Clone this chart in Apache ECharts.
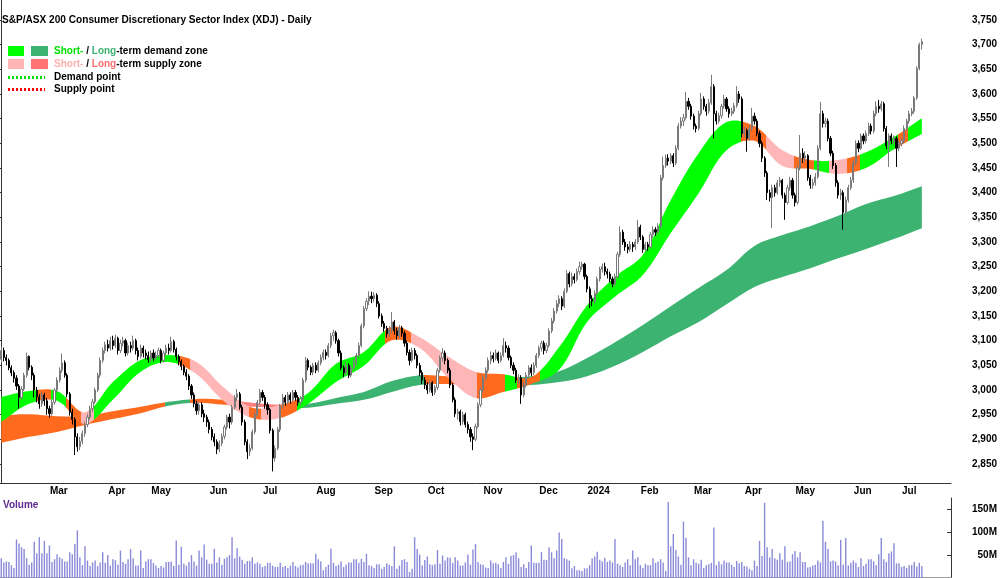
<!DOCTYPE html>
<html lang="en">
<head>
<meta charset="UTF-8">
<title>XDJ Daily</title>
<script src="https://cdn.jsdelivr.net/npm/echarts@6/dist/echarts.min.js"></script>
<style>html,body{margin:0;padding:0;background:#fff;}</style>
</head>
<body>
<div id="main" style="width:1000px;height:578px;"></div>
<script type="text/javascript">
// one row per trading day: open, close, low, high, volume (millions)
var feb23 = [[3062,3080,3055,3088,43],[3080,3066,3058,3086,34],[3066,3060,3050,3072,36],[3060,3045,3040,3064,35],[3045,3035,3028,3050,28],[3035,3024,3015,3040,22],[3024,3008,3000,3030,84],[3008,2985,2962,3012,75],[2985,3002,2980,3008,67],[3002,3030,2998,3035,63],[3030,3068,3025,3076,43],[3068,3046,3040,3070,29],[3046,3030,3020,3050,34],[3030,3000,2985,3035,79],[3000,2986,2975,3006,54],[2986,2972,2962,2992,89],[2972,2990,2966,2996,54],[2990,2978,2968,2994,81]];
var mar23 = [[2978,2962,2950,2984,54],[2962,2952,2944,2968,71],[2952,2975,2948,2980,35],[2975,3000,2970,3004,41],[3000,3020,2995,3026,52],[3020,3040,3015,3046,45],[3040,3055,3035,3074,42],[3055,3030,3025,3060,36],[3030,2992,2985,3034,36],[2992,2955,2948,2996,56],[2955,2940,2930,2962,52],[2940,2905,2868,2945,74],[2905,2885,2875,2912,104],[2885,2896,2878,2905,45],[2896,2912,2890,2918,28],[2912,2930,2905,2936,69],[2930,2945,2925,2952,38],[2945,2962,2940,2968,26],[2962,2976,2955,2982,34],[2976,3000,2972,3005,38],[3000,3030,2996,3035,26],[3030,3060,3025,3066,34],[3060,3080,3055,3086,56]];
var apr23 = [[3080,3092,3074,3098,33],[3092,3085,3078,3102,50],[3085,3100,3080,3108,27],[3100,3090,3082,3110,41],[3090,3105,3085,3112,39],[3105,3080,3072,3108,29],[3080,3095,3075,3102,60],[3095,3100,3088,3108,35],[3100,3075,3068,3104,31],[3075,3090,3070,3096,41],[3090,3085,3076,3098,63],[3085,3100,3080,3110,43],[3100,3080,3072,3104,27],[3080,3068,3060,3086,27],[3068,3085,3064,3092,60],[3085,3075,3066,3090,22],[3075,3070,3062,3082,36]];
var may23 = [[3070,3062,3055,3078,41],[3062,3075,3058,3080,41],[3075,3065,3058,3082,33],[3065,3070,3060,3078,27],[3070,3080,3064,3086,22],[3080,3060,3054,3084,26],[3060,3075,3056,3080,23],[3075,3085,3070,3092,35],[3085,3080,3072,3094,35],[3080,3098,3076,3108,36],[3098,3082,3076,3102,26],[3082,3068,3060,3086,82],[3068,3058,3050,3072,29],[3058,3048,3040,3062,68],[3048,3036,3030,3052,31],[3036,3028,3020,3042,27],[3028,3008,3000,3032,35],[3008,2990,2982,3012,50],[2990,2972,2965,2995,36],[2972,2958,2950,2978,27],[2958,2970,2950,2976,60],[2970,2952,2945,2975,45],[2952,2945,2935,2960,73]];
var jun23 = [[2945,2935,2925,2950,40],[2935,2920,2912,2940,31],[2920,2905,2898,2925,31],[2905,2895,2886,2912,64],[2895,2880,2870,2900,34],[2880,2892,2874,2898,45],[2892,2906,2886,2912,29],[2906,2925,2900,2930,42],[2925,2945,2920,2950,45],[2945,2935,2922,2952,50],[2935,2965,2930,2970,89],[2965,2985,2960,2990,43],[2985,2992,2978,3002,65],[2992,2965,2960,2996,47],[2965,2935,2928,2970,40],[2935,2895,2888,2940,31],[2895,2875,2860,2900,37],[2875,2882,2866,2890,37],[2882,2915,2878,2920,45],[2915,2950,2910,2955,31],[2950,2975,2945,2980,34]];
var jul23 = [[2975,2995,2970,3002,31],[2995,2985,2978,3000,24],[2985,2970,2962,2990,26],[2970,2960,2950,2975,33],[2960,2918,2912,2964,33],[2918,2862,2835,2922,27],[2862,2882,2855,2888,24],[2882,2920,2878,2925,24],[2920,2968,2915,2972,33],[2968,2985,2962,2992,24],[2985,2975,2968,2990,26],[2975,2990,2970,2996,22],[2990,2980,2972,2995,27],[2980,2995,2976,3000,35],[2995,2985,2978,3000,26],[2985,2975,2968,2990,23],[2975,2982,2970,2988,28],[2982,3020,2978,3025,29],[3020,3060,3015,3067,35],[3060,3046,3040,3064,32],[3046,3036,3030,3050,32]];
var aug23 = [[3036,3050,3030,3055,32],[3050,3040,3034,3056,53],[3040,3055,3036,3060,41],[3055,3066,3050,3072,36],[3066,3076,3060,3082,17],[3076,3070,3062,3082,24],[3070,3090,3066,3095,29],[3090,3110,3085,3116,64],[3110,3116,3100,3122,33],[3116,3100,3094,3120,26],[3100,3075,3068,3104,29],[3075,3045,3040,3080,36],[3045,3035,3026,3050,24],[3035,3050,3030,3056,29],[3050,3030,3024,3054,34],[3030,3045,3026,3050,34],[3045,3056,3040,3062,41],[3056,3070,3050,3075,41],[3070,3090,3066,3096,33],[3090,3130,3086,3135,42],[3130,3165,3125,3170,35],[3165,3180,3160,3186,53],[3180,3190,3172,3200,28]];
var sep23 = [[3190,3185,3176,3199,26],[3185,3192,3178,3198,22],[3192,3175,3168,3196,30],[3175,3150,3145,3180,30],[3150,3135,3128,3155,20],[3135,3125,3118,3140,24],[3125,3114,3106,3130,32],[3114,3122,3108,3130,29],[3122,3138,3115,3158,26],[3138,3120,3112,3142,69],[3120,3110,3102,3126,20],[3110,3126,3105,3132,27],[3126,3115,3108,3130,39],[3115,3095,3088,3120,41],[3095,3076,3070,3100,35],[3076,3060,3050,3082,13],[3060,3080,3056,3086,20],[3080,3070,3062,3085,89],[3070,3050,3044,3074,63],[3050,3035,3028,3055,51],[3035,3020,3012,3040,27]];
var oct23 = [[3020,3010,3002,3026,39],[3010,3000,2992,3016,47],[3000,3015,2995,3020,30],[3015,2995,2988,3018,28],[2995,3005,2990,3010,30],[3005,3040,3000,3045,61],[3040,3065,3035,3070,31],[3065,3075,3058,3085,49],[3075,3060,3052,3080,38],[3060,3040,3034,3064,45],[3040,3010,3004,3045,44],[3010,2980,2975,3014,33],[2980,2952,2945,2985,45],[2952,2956,2940,2962,38],[2956,2936,2928,2960,27],[2936,2950,2930,2956,27],[2950,2930,2924,2954,34],[2930,2920,2912,2936,51],[2920,2905,2895,2925,29],[2905,2900,2878,2912,62],[2900,2926,2896,2932,74],[2926,2970,2922,2975,35]];
var nov23 = [[2970,3000,2965,3005,30],[3000,3025,2995,3030,29],[3025,3040,3020,3046,23],[3040,3060,3035,3066,22],[3060,3070,3052,3078,38],[3070,3064,3056,3076,32],[3064,3075,3060,3082,33],[3075,3060,3054,3078,30],[3060,3070,3056,3076,22],[3070,3090,3066,3105,35],[3090,3085,3076,3098,45],[3085,3066,3060,3090,31],[3066,3050,3044,3070,48],[3050,3040,3032,3056,50],[3040,3020,3014,3045,56],[3020,3025,3012,3032,43],[3025,2990,2972,3030,24],[2990,3010,2985,3016,30],[3010,3030,3005,3036,22],[3030,3045,3025,3050,35],[3045,3035,3028,3052,71],[3035,3050,3030,3056,33]];
var dec23 = [[3050,3070,3045,3075,33],[3070,3085,3065,3090,33],[3085,3095,3078,3100,57],[3095,3080,3072,3100,40],[3080,3090,3075,3096,39],[3090,3120,3086,3125,67],[3120,3140,3115,3146,56],[3140,3160,3135,3166,43],[3160,3175,3155,3182,60],[3175,3185,3168,3192,99],[3185,3170,3162,3190,85],[3170,3200,3166,3206,43],[3200,3236,3196,3243,41],[3236,3215,3208,3240,38],[3215,3230,3210,3238,21],[3230,3224,3216,3236,26],[3224,3240,3220,3246,17],[3240,3250,3234,3260,17],[3250,3255,3244,3260,15]];
var jan24 = [[3255,3230,3224,3258,21],[3230,3205,3198,3234,21],[3205,3185,3166,3210,28],[3185,3180,3170,3192,43],[3180,3196,3175,3202,47],[3196,3225,3192,3230,57],[3225,3245,3220,3250,40],[3245,3250,3238,3256,36],[3250,3240,3232,3258,44],[3240,3235,3226,3246,35],[3235,3225,3218,3240,38],[3225,3215,3208,3230,34],[3215,3230,3210,3236,85],[3230,3275,3226,3280,31],[3275,3320,3270,3332,28],[3320,3300,3294,3325,24],[3300,3290,3282,3306,34],[3290,3285,3277,3296,41],[3285,3295,3280,3302,28],[3295,3290,3280,3300,60],[3290,3300,3284,3306,41]];
var feb24 = [[3300,3330,3296,3345,45],[3330,3310,3304,3335,28],[3310,3285,3278,3314,22],[3285,3295,3280,3300,31],[3295,3290,3282,3300,28],[3290,3315,3286,3320,28],[3315,3325,3308,3332,43],[3325,3320,3312,3330,33],[3320,3332,3315,3338,36],[3332,3430,3328,3436,41],[3430,3455,3425,3473,34],[3455,3470,3450,3477,15],[3470,3464,3455,3478,166],[3464,3475,3458,3480,69],[3475,3460,3452,3480,96],[3460,3490,3456,3496,61],[3490,3535,3486,3541,47],[3535,3545,3530,3553,29],[3545,3552,3535,3560,123],[3552,3585,3548,3604,88],[3585,3575,3568,3592,45]];
var mar24 = [[3575,3555,3548,3580,28],[3555,3535,3528,3560,41],[3535,3530,3522,3540,33],[3530,3560,3526,3566,31],[3560,3590,3556,3602,40],[3590,3575,3568,3595,22],[3575,3565,3556,3580,28],[3565,3582,3560,3590,30],[3582,3615,3578,3639,33],[3615,3560,3510,3620,110],[3560,3545,3538,3566,28],[3545,3556,3540,3562,36],[3556,3575,3550,3580,30],[3575,3590,3570,3598,38],[3590,3570,3564,3594,34],[3570,3560,3552,3575,34],[3560,3565,3555,3572,29],[3565,3576,3560,3582,24],[3576,3600,3572,3616,37],[3600,3590,3582,3606,32]];
var apr24 = [[3590,3520,3512,3595,35],[3520,3526,3512,3534,26],[3526,3510,3483,3530,25],[3510,3530,3505,3536,20],[3530,3555,3525,3572,17],[3555,3545,3538,3562,38],[3545,3520,3514,3550,26],[3520,3500,3492,3525,81],[3500,3470,3462,3505,48],[3470,3440,3432,3474,164],[3440,3400,3385,3444,67],[3400,3390,3382,3406,45],[3390,3410,3328,3416,63],[3410,3400,3392,3416,43],[3400,3420,3396,3426,40],[3420,3425,3412,3432,54],[3425,3395,3388,3428,40],[3395,3380,3345,3400,69],[3380,3410,3376,3416,35],[3410,3425,3404,3432,36]];
var may24 = [[3425,3395,3388,3430,52],[3395,3380,3372,3400,59],[3380,3450,3376,3456,45],[3450,3480,3445,3517,56],[3480,3470,3460,3490,35],[3470,3475,3462,3484,35],[3475,3430,3424,3478,23],[3430,3415,3408,3436,24],[3415,3420,3408,3428,27],[3420,3432,3414,3440,29],[3432,3490,3428,3496,38],[3490,3560,3486,3584,34],[3560,3540,3532,3566,125],[3540,3545,3532,3552,79],[3545,3510,3504,3550,63],[3510,3480,3474,3515,36],[3480,3455,3448,3485,38],[3455,3420,3412,3460,36],[3420,3395,3388,3425,28],[3395,3400,3385,3408,83],[3400,3360,3325,3405,29],[3360,3385,3355,3392,87],[3385,3410,3380,3416,27]];
var jun24 = [[3410,3425,3405,3432,33],[3425,3460,3420,3466,38],[3460,3500,3455,3506,33],[3500,3490,3482,3506,24],[3490,3515,3486,3520,43],[3515,3505,3498,3520,26],[3505,3520,3500,3526,31],[3520,3535,3515,3542,41],[3535,3525,3518,3540,41],[3525,3560,3520,3566,36],[3560,3575,3555,3585,28],[3575,3570,3562,3588,52],[3570,3580,3565,3586,87],[3580,3530,3524,3584,41],[3530,3495,3488,3535,35],[3495,3515,3452,3520,54],[3515,3505,3498,3520,58],[3505,3510,3498,3516,76],[3510,3490,3452,3514,32]];
var jul24 = [[3490,3500,3484,3506,32],[3500,3505,3494,3512,24],[3505,3530,3500,3536,26],[3530,3545,3525,3550,22],[3545,3560,3540,3566,28],[3560,3565,3555,3572,28],[3565,3592,3560,3596,35],[3592,3652,3588,3656,25],[3652,3700,3648,3704,33],[3700,3706,3690,3712,26]];

var monthRows = [feb23, mar23, apr23, may23, jun23, jul23, aug23, sep23, oct23, nov23, dec23, jan24, feb24, mar24, apr24, may24, jun24, jul24];
var monthLabels = ['', 'Mar', 'Apr', 'May', 'Jun', 'Jul', 'Aug', 'Sep', 'Oct', 'Nov', 'Dec', '2024', 'Feb', 'Mar', 'Apr', 'May', 'Jun', 'Jul'];

// zone edges, read every 11th trading day (day 0, 11, ... 363)
var bandStep = 11;
var ltUpper = [2949, 2951, 2947, 2947, 2957, 2966, 2976, 2982, 2980, 2974, 2970, 2972, 2984, 2996, 3018, 3030, 3028, 3026, 3024, 3028, 3038, 3065, 3097, 3132, 3170, 3207, 3243, 3292, 3314, 3332, 3353, 3377, 3393, 3413];
var ltLower = [2893, 2905, 2915, 2929, 2941, 2953, 2968, 2974, 2970, 2966, 2964, 2964, 2972, 2980, 2996, 3010, 3012, 3010, 3010, 3010, 3016, 3028, 3049, 3077, 3109, 3138, 3174, 3209, 3229, 3247, 3267, 3286, 3306, 3328];
var stUpper = [2986, 2998, 2998, 2955, 3016, 3061, 3071, 3057, 3004, 2964, 2970, 2994, 3053, 3077, 3128, 3107, 3069, 3037, 3032, 3026, 3087, 3172, 3229, 3274, 3385, 3480, 3543, 3535, 3486, 3466, 3466, 3482, 3513, 3551];
var stLower = [2935, 2972, 2978, 2931, 2980, 3037, 3057, 3032, 2976, 2943, 2943, 2972, 3016, 3049, 3101, 3085, 3026, 2984, 2996, 3012, 3041, 3138, 3189, 3233, 3318, 3399, 3486, 3505, 3454, 3448, 3438, 3450, 3488, 3519];

// zone colour changes, by trading day
var ltZones = [[0, 65, 'orange'], [65, 75, 'ltDemand'], [75, 89, 'orange'], [89, 116, 'ltSupply'], [116, 167, 'ltDemand'], [167, 193, 'orange'], [193, 400, 'ltDemand']];
var stZones = [[0, 14, 'stDemand'], [14, 20, 'orange'], [20, 26, 'stDemand'], [26, 32, 'orange'], [32, 37, 'stSupply'], [37, 70, 'stDemand'], [70, 75, 'orange'], [75, 98, 'stSupply'], [98, 103, 'orange'], [103, 110, 'stSupply'], [110, 117, 'orange'], [117, 152, 'stDemand'], [152, 162, 'orange'], [162, 188, 'stSupply'], [188, 199, 'orange'], [199, 204, 'stDemand'], [204, 213, 'orange'], [213, 292, 'stDemand'], [292, 302, 'orange'], [302, 313, 'stSupply'], [313, 321, 'orange'], [321, 327, 'stDemand'], [327, 334, 'stSupply'], [334, 339, 'orange'], [339, 354, 'stDemand'], [354, 358, 'orange'], [358, 400, 'stDemand']];

var colors = {
    stDemand: '#00ff00',
    ltDemand: '#3cb371',
    stSupply: '#ffb6b6',
    ltSupply: '#ff8080',
    orange: '#ff6a1f'
};

var padDays = 11;
var categories = [], candles = [], volumes = [], monthStart = {};
monthRows.forEach(function (rows, m) {
    rows.forEach(function (r, j) {
        if (j === 0 && monthLabels[m]) monthStart[categories.length] = monthLabels[m];
        categories.push('m' + m + 'd' + j);
        candles.push([r[0], r[1], r[2], r[3]]);
        volumes.push(r[4]);
    });
});
for (var p = 0; p < padDays; p++) categories.push('pad' + p);
var total = categories.length;

function isMonthStart(index) { return monthStart.hasOwnProperty(index); }

// horizontal gradient with hard stops where the zone colour changes
function zoneFill(api, zones) {
    var x0 = api.coord([-0.5, 3000])[0];
    var x1 = api.coord([total - 0.5, 3000])[0];
    var stops = [];
    zones.forEach(function (z) {
        var a = (api.coord([z[0] - 0.5, 3000])[0] - x0) / (x1 - x0);
        var b = (api.coord([Math.min(z[1], total) - 0.5, 3000])[0] - x0) / (x1 - x0);
        stops.push({offset: Math.max(0, Math.min(1, a)), color: colors[z[2]]});
        stops.push({offset: Math.max(0, Math.min(1, b)), color: colors[z[2]]});
    });
    return new echarts.graphic.LinearGradient(x0, 0, x1, 0, stops, true);
}

function zoneSeries(name, upper, lower, zones) {
    var rows = upper.map(function (u, k) { return [k * bandStep, u, lower[k]]; });
    return {
        name: name, type: 'custom', coordinateSystem: 'cartesian2d', xAxisIndex: 1, yAxisIndex: 0,
        silent: true, clip: true, data: rows, encode: {x: 0, y: [1, 2]},
        renderItem: function (params, api) {
            if (params.dataIndex !== 0) return null;
            var top = rows.map(function (r) { return api.coord([r[0], r[1]]); });
            var bottom = rows.map(function (r) { return api.coord([r[0], r[2]]); }).reverse();
            // doubled end points keep the ends of the ribbon square
            var pts = [top[0]].concat(top, [top[top.length - 1], bottom[0]], bottom, [bottom[bottom.length - 1]]);
            return {type: 'polygon', shape: {points: pts, smooth: 0.35}, style: {fill: zoneFill(api, zones)}};
        }
    };
}

var axisFont = {fontFamily: '"Liberation Sans", Arial, sans-serif', fontWeight: 'bold', fontSize: 10, color: '#000'};
var legendFont = 'bold 10px "Liberation Sans", Arial, sans-serif';
var priceTicks = [2850, 2900, 2950, 3000, 3050, 3100, 3150, 3200, 3250, 3300, 3350, 3400, 3450, 3500, 3550, 3600, 3650, 3700, 3750];
var volumeTicks = [50, 100, 150];

var myChart = echarts.init(document.getElementById('main'));

var option = {
    animation: false,
    backgroundColor: '#ffffff',
    grid: [
        {left: 0, right: 48, top: 0, height: 483},
        {left: 0, right: 48, top: 498, height: 82}
    ],
    xAxis: [
        {
            type: 'category', gridIndex: 0, data: categories, boundaryGap: true,
            axisLine: {lineStyle: {color: '#333', width: 1}},
            axisTick: {interval: isMonthStart, length: 13, lineStyle: {color: '#333'}},
            axisLabel: Object.assign({interval: isMonthStart, margin: 3, align: 'left', padding: [0, 0, 0, 3],
                formatter: function (v, i) { return monthStart[i] || ''; }}, axisFont),
            splitLine: {show: false}
        },
        {type: 'value', gridIndex: 0, min: -0.5, max: total - 0.5, show: false},
        {
            type: 'category', gridIndex: 1, data: categories, position: 'top',
            axisLine: {lineStyle: {color: '#9a9a9a', width: 2}},
            axisTick: {show: false}, axisLabel: {show: false}, splitLine: {show: false}
        }
    ],
    yAxis: [
        {
            type: 'value', gridIndex: 0, position: 'right', min: 2811.5, max: 3790.5,
            axisLine: {show: true, lineStyle: {color: '#333'}},
            axisTick: {show: true, inside: true, length: 4, customValues: priceTicks, lineStyle: {color: '#333'}},
            axisLabel: Object.assign({margin: 46, align: 'right', customValues: priceTicks,
                formatter: function (v) { return v.toLocaleString('en-US'); }}, axisFont),
            splitLine: {show: false}
        },
        {
            type: 'value', gridIndex: 1, position: 'right', min: 0, max: 174.5,
            axisLine: {show: true, lineStyle: {color: '#333'}},
            axisTick: {show: true, inside: true, length: 4, customValues: volumeTicks, lineStyle: {color: '#333'}},
            axisLabel: Object.assign({margin: 46, align: 'right', customValues: volumeTicks,
                formatter: function (v) { return v + 'M'; }}, axisFont),
            splitLine: {show: false}
        }
    ],
    graphic: [
        {type: 'text', left: 2, top: 15, style: {text: 'S&P/ASX 200 Consumer Discretionary Sector Index (XDJ) - Daily', font: 'bold 10.1px "Liberation Sans", Arial, sans-serif', fill: '#000'}},
        {type: 'rect', shape: {x: 8, y: 46, width: 16, height: 10}, style: {fill: colors.stDemand}},
        {type: 'rect', shape: {x: 31, y: 46, width: 17, height: 10}, style: {fill: colors.ltDemand}},
        {type: 'rect', shape: {x: 8, y: 59, width: 16, height: 10}, style: {fill: colors.stSupply}},
        {type: 'rect', shape: {x: 31, y: 59, width: 17, height: 10}, style: {fill: '#ff7373'}},
        {type: 'text', left: 54, top: 46, style: {text: '{a|Short-} / {b|Long}-term demand zone', font: legendFont, fill: '#000',
            rich: {a: {fill: '#00e000', font: legendFont}, b: {fill: colors.ltDemand, font: legendFont}}}},
        {type: 'text', left: 54, top: 59, style: {text: '{a|Short-} / {b|Long}-term supply zone', font: legendFont, fill: '#000',
            rich: {a: {fill: '#ffb0b0', font: legendFont}, b: {fill: '#ff6f6f', font: legendFont}}}},
        {type: 'line', shape: {x1: 8, y1: 77.5, x2: 45, y2: 77.5}, style: {stroke: '#00dd00', lineWidth: 3, lineDash: [2, 2]}},
        {type: 'line', shape: {x1: 8, y1: 89.5, x2: 45, y2: 89.5}, style: {stroke: '#ff0000', lineWidth: 3, lineDash: [2, 2]}},
        {type: 'text', left: 54, top: 72, style: {text: 'Demand point', font: legendFont, fill: '#000'}},
        {type: 'text', left: 54, top: 84, style: {text: 'Supply point', font: legendFont, fill: '#000'}},
        {type: 'text', left: 3, top: 500, style: {text: 'Volume', font: 'bold 10px "Liberation Sans", Arial, sans-serif', fill: '#5c2a8e'}}
    ],
    series: [
        zoneSeries('Long-term zone', ltUpper, ltLower, ltZones),
        zoneSeries('Short-term zone', stUpper, stLower, stZones),
        {
            name: 'XDJ', type: 'candlestick', xAxisIndex: 0, yAxisIndex: 0, data: candles,
            barWidth: '65%',
            itemStyle: {color: '#ffffff', color0: '#000000', borderColor: '#7a7a7a', borderColor0: '#000000', borderWidth: 1}
        },
        {
            name: 'Volume', type: 'bar', xAxisIndex: 2, yAxisIndex: 1, data: volumes,
            barWidth: '55%', itemStyle: {color: '#8a8ad8'}
        }
    ]
};

myChart.setOption(option);
</script>
</body>
</html>
